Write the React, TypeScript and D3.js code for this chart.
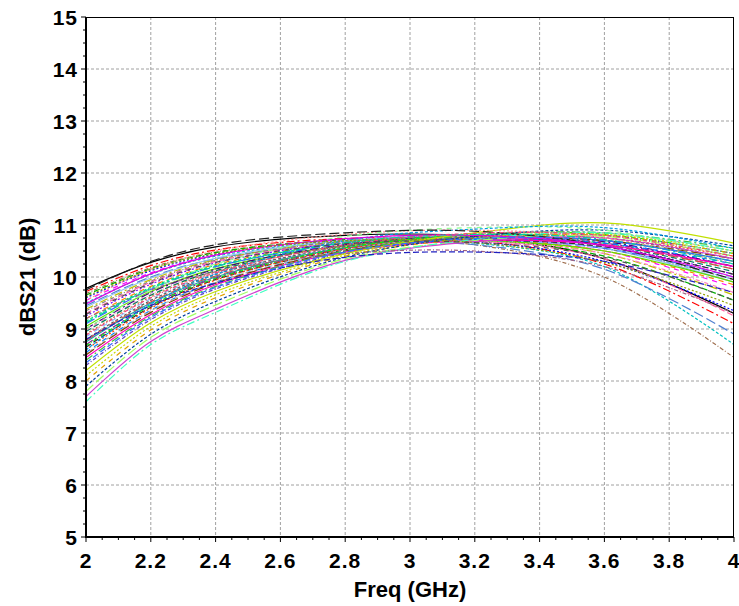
import * as d3 from 'd3';

// frequency sample points (GHz) for every Monte Carlo trace
const freqs = [2.0, 2.2, 2.4, 2.8, 3.2, 3.6, 4.0];

// dBS21 traces, one row per run
const traces: number[][] = [
  [9.78, 10.28, 10.58, 10.8, 10.78, 10.35, 9.3],
  [9.72, 10.22, 10.52, 10.74, 10.7, 10.25, 9.1],
  [9.68, 10.18, 10.48, 10.7, 10.62, 10.0, 8.45],
  [9.65, 10.16, 10.47, 10.72, 10.72, 10.4, 9.55],
  [9.6, 10.12, 10.44, 10.7, 10.68, 10.3, 9.35],
  [9.55, 10.08, 10.42, 10.72, 10.75, 10.5, 9.8],
  [9.5, 10.05, 10.4, 10.68, 10.65, 10.2, 8.7],
  [9.45, 10.0, 10.35, 10.64, 10.62, 10.15, 8.9],
  [9.42, 9.98, 10.36, 10.7, 10.78, 10.55, 9.9],
  [9.38, 9.95, 10.33, 10.68, 10.72, 10.45, 9.65],
  [9.35, 9.92, 10.32, 10.69, 10.76, 10.55, 9.95],
  [9.3, 9.9, 10.3, 10.66, 10.7, 10.35, 9.25],
  [9.25, 9.86, 10.27, 10.66, 10.76, 10.6, 10.05],
  [9.2, 9.82, 10.24, 10.64, 10.72, 10.5, 9.85],
  [9.15, 9.8, 10.22, 10.65, 10.78, 10.65, 10.15],
  [9.1, 9.76, 10.2, 10.62, 10.72, 10.55, 10.0],
  [9.05, 9.72, 10.16, 10.6, 10.7, 10.5, 9.9],
  [9.0, 9.7, 10.15, 10.62, 10.78, 10.68, 10.2],
  [8.98, 9.66, 10.12, 10.58, 10.68, 10.45, 9.7],
  [8.95, 9.65, 10.12, 10.6, 10.75, 10.62, 10.1],
  [8.9, 9.62, 10.1, 10.6, 10.78, 10.7, 10.3],
  [8.85, 9.58, 10.06, 10.56, 10.7, 10.55, 9.95],
  [8.8, 9.55, 10.05, 10.58, 10.8, 10.75, 10.35],
  [8.78, 9.52, 10.02, 10.55, 10.72, 10.62, 10.15],
  [8.75, 9.5, 10.0, 10.56, 10.76, 10.7, 10.3],
  [8.7, 9.46, 9.98, 10.54, 10.74, 10.65, 10.2],
  [8.68, 9.45, 9.97, 10.56, 10.82, 10.82, 10.45],
  [8.65, 9.42, 9.95, 10.52, 10.7, 10.58, 10.05],
  [8.6, 9.4, 9.94, 10.54, 10.78, 10.75, 10.4],
  [8.55, 9.36, 9.9, 10.5, 10.72, 10.65, 10.25],
  [8.52, 9.35, 9.9, 10.52, 10.8, 10.85, 10.5],
  [8.5, 9.32, 9.88, 10.5, 10.74, 10.7, 10.35],
  [8.45, 9.28, 9.85, 10.48, 10.7, 10.62, 10.2],
  [8.4, 9.25, 9.82, 10.5, 10.8, 10.85, 10.55],
  [8.3, 9.18, 9.77, 10.46, 10.76, 10.8, 10.45],
  [8.2, 9.12, 9.72, 10.45, 10.85, 11.04, 10.65],
  [8.1, 9.05, 9.66, 10.42, 10.76, 10.82, 10.5],
  [8.0, 8.98, 9.6, 10.4, 10.74, 10.8, 10.45],
  [7.9, 8.9, 9.53, 10.38, 10.78, 10.9, 10.6],
  [7.8, 8.84, 9.46, 10.35, 10.7, 10.78, 10.4],
  [7.7, 8.76, 9.38, 10.32, 10.68, 10.75, 10.35],
  [7.6, 8.7, 9.32, 10.3, 10.72, 10.85, 10.5],
  [9.2, 9.75, 10.1, 10.45, 10.5, 10.2, 9.3],
  [8.8, 9.45, 9.88, 10.38, 10.48, 10.3, 9.7],
  [9.55, 10.15, 10.5, 10.82, 10.9, 10.75, 10.25],
  [9.0, 9.75, 10.25, 10.78, 10.95, 10.9, 10.4],
  [8.6, 9.48, 10.05, 10.7, 10.92, 10.95, 10.55],
  [9.75, 10.3, 10.62, 10.85, 10.88, 10.6, 9.95],
  [9.48, 10.06, 10.42, 10.74, 10.8, 10.6, 10.0],
  [9.12, 9.78, 10.2, 10.66, 10.82, 10.72, 10.25],
  [8.88, 9.6, 10.08, 10.62, 10.84, 10.8, 10.4],
  [8.35, 9.22, 9.8, 10.48, 10.74, 10.7, 10.3],
  [9.62, 10.14, 10.45, 10.7, 10.66, 10.28, 9.45],
  [9.28, 9.88, 10.28, 10.64, 10.66, 10.38, 9.55],
];

const xTicks = [2, 2.2, 2.4, 2.6, 2.8, 3, 3.2, 3.4, 3.6, 3.8, 4];
const yTicks = [5, 6, 7, 8, 9, 10, 11, 12, 13, 14, 15];

const palette = [
  '#000000', '#ff0000', '#a07050', '#00b000', '#0000ff', '#ff00ff', '#00c0c0', '#5080d0',
  '#90c0f0', '#c0c000', '#808080', '#ff60a0', '#8000ff', '#ff8000', '#00e070', '#4060ff',
  '#60e000', '#400080', '#ff80c0', '#008060', '#c08040', '#80c0ff', '#606060', '#e04040',
  '#20a0a0', '#a000a0', '#00ff00', '#303030', '#ff4000', '#0080ff', '#b0b0b0', '#804000',
  '#ff00c0', '#40c040', '#6040c0', '#c0e000', '#c8d800', '#e0a000', '#0040a0', '#a0ff60',
  '#d040d0', '#40ffc0', '#a06080', '#2020c0', '#ff9090', '#90ff90', '#00a0e0', '#202020',
  '#e000e0', '#00d0a0', '#f04080', '#3070ff', '#90a000', '#505050',
];
const dashes = ['', '6 3', '3 2', '8 3 2 3', '2 2', '10 4', '4 2 1 2', '5 5'];

const width = 739;
const height = 606;
const margin = { top: 17, right: 5, bottom: 69, left: 86 };

export default function App() {
  const x = d3.scaleLinear().domain([2, 4]).range([margin.left, width - margin.right]);
  const y = d3.scaleLinear().domain([5, 15]).range([height - margin.bottom, margin.top]);

  const line = d3
    .line<number>()
    .x((_, i) => x(freqs[i]))
    .y((d) => y(d))
    .curve(d3.curveCatmullRom.alpha(0.5));

  const minorX = d3.range(0, 41).map((i) => 2 + i * 0.05);
  const minorY = d3.range(0, 41).map((i) => 5 + i * 0.25);
  const font = 'Arial, "Liberation Sans", sans-serif';
  const x0 = margin.left;
  const x1 = width - margin.right;
  const y0 = height - margin.bottom;
  const y1 = margin.top;

  return (
    <svg
      width={width}
      height={height}
      style={{ position: 'absolute', left: 0, top: 0, display: 'block', background: '#fff' }}
      fontFamily={font}
    >
      <defs>
        <clipPath id="plot">
          <rect x={x0} y={y1} width={x1 - x0} height={y0 - y1} />
        </clipPath>
      </defs>

      {/* grid */}
      {xTicks.slice(1, -1).map((t) => (
        <line key={`gx${t}`} x1={x(t)} x2={x(t)} y1={y1} y2={y0} stroke="#a0a0a0" strokeDasharray="3 2" />
      ))}
      {yTicks.slice(1, -1).map((t) => (
        <line key={`gy${t}`} x1={x0} x2={x1} y1={y(t)} y2={y(t)} stroke="#a0a0a0" strokeDasharray="3 2" />
      ))}

      <g clipPath="url(#plot)">
        {traces.map((tr, i) => (
          <path
            key={i}
            d={line(tr) ?? ''}
            fill="none"
            stroke={palette[i % palette.length]}
            strokeWidth={1.2}
            strokeDasharray={i === 35 ? '' : dashes[(i * 3) % dashes.length]}
          />
        ))}
      </g>

      {/* frame */}
      <line x1={x0} x2={x1} y1={y1 + 0.5} y2={y1 + 0.5} stroke="#000" />
      <line x1={x1 - 0.5} x2={x1 - 0.5} y1={y1} y2={y0} stroke="#000" />
      <line x1={x0} x2={x0} y1={y1} y2={y0 + 1} stroke="#000" strokeWidth={2} />
      <line x1={x0 - 1} x2={x1} y1={y0} y2={y0} stroke="#000" strokeWidth={2} />

      {/* ticks */}
      {minorX.map((t, i) => (
        <line key={`tx${i}`} x1={x(t)} x2={x(t)} y1={y0} y2={y0 + (i % 4 === 0 ? 5 : 3)} stroke="#000" />
      ))}
      {minorY.map((t, i) => (
        <line key={`ty${i}`} x1={x0} x2={x0 - (i % 4 === 0 ? 5 : 3)} y1={y(t)} y2={y(t)} stroke="#000" />
      ))}

      {xTicks.map((t) => (
        <text key={`lx${t}`} x={x(t)} y={y0 + 31} textAnchor="middle" fontSize={21} fontWeight="bold" letterSpacing={1}>
          {d3.format('~g')(t)}
        </text>
      ))}
      {yTicks.map((t) => (
        <text key={`ly${t}`} x={x0 - 8} y={y(t) + 7.5} textAnchor="end" fontSize={21} fontWeight="bold" letterSpacing={1}>
          {t}
        </text>
      ))}

      <text x={(x0 + x1) / 2} y={597} textAnchor="middle" fontSize={22} fontWeight="bold">
        Freq (GHz)
      </text>
      <text
        transform={`translate(35,${(y0 + y1) / 2}) rotate(-90)`}
        textAnchor="middle"
        fontSize={22}
        fontWeight="bold"
      >
        dBS21 (dB)
      </text>
    </svg>
  );
}
